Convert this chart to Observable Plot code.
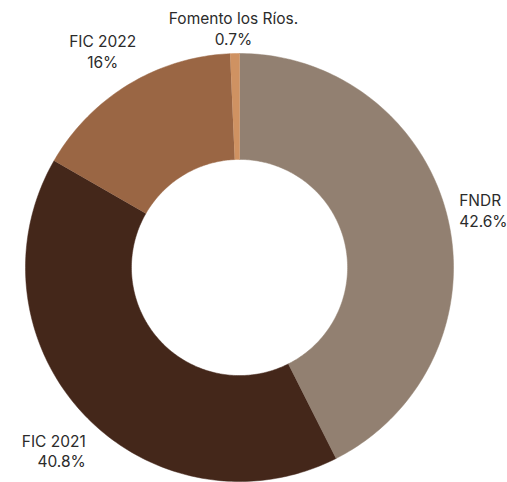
<!DOCTYPE html>
<html>
<head>
<meta charset="utf-8">
<script src="https://cdn.jsdelivr.net/npm/d3@7"></script>
<script src="https://cdn.jsdelivr.net/npm/@observablehq/plot@0.6"></script>
<style>
  html, body { margin: 0; padding: 0; background: #fff; }
  #chart svg { display: block; }
</style>
</head>
<body>
<div id="chart"></div>
<script>
const categories = ["FNDR", "FIC 2021", "FIC 2022", "Fomento los Ríos."];
const values = [42.6, 40.8, 16, 0.7];
const valueLabels = ["42.6%", "40.8%", "16%", "0.7%"];
const colors = ["#928071", "#44271a", "#9a6644", "#cf9262"];

const innerRatio = 0.505;
const total = d3.sum(values);

// build slice polygons (angle clockwise from top, in unit-circle coordinates)
const slices = [];
let acc = 0;
categories.forEach((c, i) => {
  const a0 = acc / total * 2 * Math.PI;
  acc += values[i];
  const a1 = acc / total * 2 * Math.PI;
  slices.push({name: c, a0, a1, mid: (a0 + a1) / 2, label: c + "\n" + valueLabels[i]});
});

const pts = [];
for (const s of slices) {
  const n = Math.max(2, Math.ceil((s.a1 - s.a0) / (Math.PI / 180)));
  for (let k = 0; k <= n; k++) {
    const a = s.a0 + (s.a1 - s.a0) * k / n;
    pts.push({name: s.name, x: Math.sin(a), y: Math.cos(a)});
  }
  for (let k = n; k >= 0; k--) {
    const a = s.a0 + (s.a1 - s.a0) * k / n;
    pts.push({name: s.name, x: innerRatio * Math.sin(a), y: innerRatio * Math.cos(a)});
  }
}

const lr = 1.06;
const labels = slices.map(s => ({...s, x: lr * Math.sin(s.mid), y: lr * Math.cos(s.mid)}));
const byName = n => labels.filter(d => d.name === n);

const cx = 239, cy = 267, R = 214;
const font = "Inter, 'Noto Sans', sans-serif";
const ts = {fontSize: 15.5, fill: "#2b2b2b", lineHeight: 1.32};

const plot = Plot.plot({
  width: 507,
  height: 482,
  margin: 0,
  x: {domain: [-1, 1], range: [cx - R, cx + R], axis: null},
  y: {domain: [-1, 1], range: [cy + R, cy - R], axis: null},
  color: {type: "ordinal", domain: categories, range: colors},
  style: {fontFamily: font, background: "#fff"},
  marks: [
    Plot.line(pts, {x: "x", y: "y", z: "name", fill: "name", stroke: "name", strokeWidth: 0.5, curve: "linear"}),
    Plot.text(byName("FNDR"), {x: "x", y: "y", text: "label", textAnchor: "start", lineAnchor: "middle", dx: -1, dy: -5, ...ts}),
    Plot.text(byName("FIC 2021"), {x: "x", y: "y", text: "label", textAnchor: "end", lineAnchor: "top", dx: 11, dy: 9, ...ts}),
    Plot.text(byName("FIC 2022"), {x: "x", y: "y", text: "label", textAnchor: "middle", lineAnchor: "bottom", dx: -19, dy: -6, ...ts}),
    Plot.text(byName("Fomento los Ríos."), {x: "x", y: "y", text: "label", textAnchor: "middle", lineAnchor: "bottom", dx: -1, dy: 4, ...ts})
  ]
});
document.getElementById("chart").appendChild(plot);
</script>
</body>
</html>
